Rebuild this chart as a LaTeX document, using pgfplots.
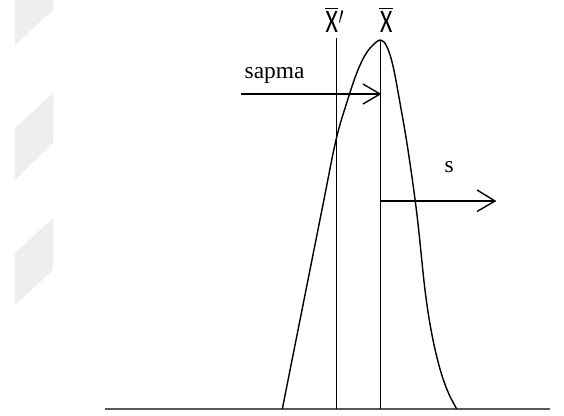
\documentclass[border=0pt]{standalone}
\usepackage{pgfplots}
\pgfplotsset{compat=1.18}
\usepackage{fontspec}
\setmainfont{Liberation Serif}
\newfontfamily\xfont{Carlito}
\definecolor{wm}{HTML}{EEEEEE}
\definecolor{base}{HTML}{595959}
\newcommand\xbar{\rlap{\kern-1.5bp\rule[23.8bp]{19bp}{1.2bp}}X}
\begin{document}
\begin{tikzpicture}
\begin{axis}[
  width=564bp, height=416bp, scale only axis,
  xmin=0, xmax=564, ymin=0, ymax=416, y dir=reverse,
  hide axis, clip=false,
]
% invisible frame for bounding box
\addplot[draw=none] coordinates {(0,0) (564,416)};
% watermark shapes
\addplot[fill=wm, draw=none] coordinates {(15,0) (53,0) (53,10) (15,45)} -- cycle;
\addplot[fill=wm, draw=none] coordinates {(15,128) (53,93) (53,143) (15,180)} -- cycle;
\addplot[fill=wm, draw=none] coordinates {(15,253) (53,218) (53,270) (15,305)} -- cycle;
% baseline
\addplot[base, line width=2.4bp] coordinates {(105,409) (550,409)};
% curve
\addplot[black, line width=1.4bp, smooth, tension=0.6] coordinates {
 (282.3,409) (321.5,212) (336,140) (347,102) (356,75) (364,57) (372,46) (380.7,40)
 (387,47) (393,66) (400,103) (408,150) (417,215) (425,290) (432,335) (440,369) (448,392) (456.7,409)};
% vertical lines
\addplot[black, line width=1.4bp] coordinates {(336.5,38) (336.5,409)};
\addplot[black, line width=1.4bp] coordinates {(380.7,40) (380.7,409)};
% sapma arrow
\addplot[black, line width=1.4bp] coordinates {(241,94) (380,94)};
\addplot[black, line width=1.4bp] coordinates {(363,84) (380,94) (363,104)};
% s arrow
\addplot[black, line width=1.4bp] coordinates {(380.7,201) (495,201)};
\addplot[black, line width=1.4bp] coordinates {(477,190) (495,201) (477,211.5)};
% labels
\node[anchor=base west, inner sep=0pt, font=\fontsize{23.5}{28}\selectfont] at (axis cs:244.5,79) {sapma};
\node[anchor=base west, inner sep=0pt, font=\fontsize{23.5}{28}\selectfont] at (axis cs:444.5,172) {s};
\node[anchor=base west, inner sep=0pt, xscale=0.72, font=\xfont\fontsize{33}{38}\selectfont] at (axis cs:325.5,32.7) {\xbar\kern1bp\raisebox{-1bp}{$'$}};
\node[anchor=base west, inner sep=0pt, xscale=0.72, font=\xfont\fontsize{33}{38}\selectfont] at (axis cs:380,32.7) {\xbar};
\end{axis}
\end{tikzpicture}
\end{document}
